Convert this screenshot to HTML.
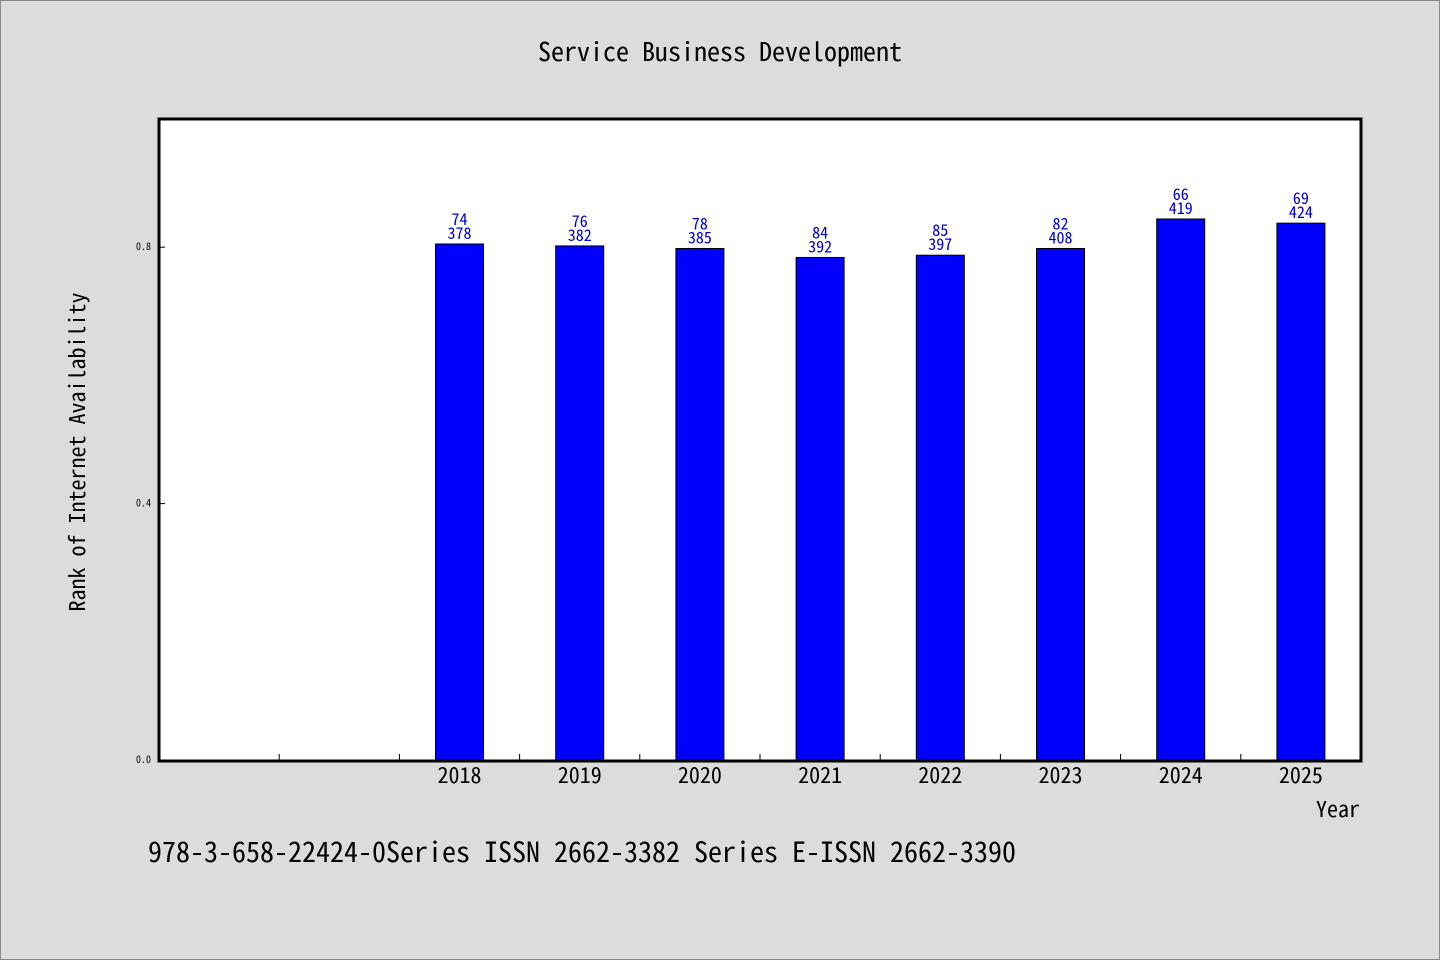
<!DOCTYPE html>
<html><head><meta charset="utf-8"><style>
html,body{margin:0;padding:0;background:#dcdcdc;overflow:hidden;width:1440px;height:960px;}
svg{display:block;}
svg text{font-family:"WenQuanYi Zen Hei Mono","WenQuanYi Zen Hei","Noto Sans Mono CJK SC","Liberation Mono",monospace;}
</style></head><body>
<svg width="1440" height="960" xmlns="http://www.w3.org/2000/svg" id="c" font-family="WenQuanYi Zen Hei Mono, WenQuanYi Zen Hei, Liberation Mono, monospace">
<rect x="0.5" y="0.5" width="1439" height="959" fill="#dcdcdc" stroke="#888"/>
<text x="720" y="61" text-anchor="middle" font-size="26">Service Business Development</text>
<rect x="159" y="119" width="1202" height="642" fill="#fff"/>
<g id="marks"></g>
<rect x="159" y="119" width="1202" height="642" fill="none" stroke="#000" stroke-width="3"/>
<text transform="translate(85,452) rotate(-90)" text-anchor="middle" font-size="22">Rank of Internet Availability</text>
<text x="1360" y="817" text-anchor="end" font-size="22">Year</text>
<text x="148" y="862" font-size="28">978-3-658-22424-0Series ISSN 2662-3382 Series E-ISSN 2662-3390</text>
</svg>
<script>
const categories=["","","2018","2019","2020","2021","2022","2023","2024","2025"];
const values=[null,null,0.805,0.802,0.798,0.784,0.7875,0.798,0.844,0.8375];
const labelTop=["","","74","76","78","84","85","82","66","69"];
const labelBottom=["","","378","382","385","392","397","408","419","424"];
const yTicks=[0.0,0.4,0.8];
const yTickLabels=["0.0","0.4","0.8"];
const L=159,R=1361,T=119,B=760,ymax=1.0;
const slot=(R-L)/categories.length;
const xs=i=>L+slot*(i+0.5);
const ys=v=>B-(v/ymax)*(B-T);
const NS="http://www.w3.org/2000/svg";
const g=document.getElementById('marks');
function mk(t,a){const e=document.createElementNS(NS,t);for(const k in a)e.setAttribute(k,a[k]);g.appendChild(e);return e;}
for(let i=1;i<categories.length;i++){
  const l=mk('line',{x1:L+slot*i,x2:L+slot*i,y1:B,y2:B-6,stroke:'#000'});
  
  
}
yTicks.forEach((v,i)=>{
  const l=mk('line',{x1:L,x2:L+6,y1:ys(v),y2:ys(v),stroke:'#000'});
  
  
  const t=mk('text',{x:L-8,y:ys(v)+3,'text-anchor':'end','font-size':10});
  t.textContent=yTickLabels[i];
  
  
});
categories.forEach((c,i)=>{
  if(values[i]==null)return;
  const x=xs(i),y=ys(values[i]);
  const r=mk('rect',{x:x-24,y:y,width:48,height:B-y,fill:'#0000ff',stroke:'#000','stroke-width':1});
  
  
  const t1=mk('text',{x:x,y:y-19,'text-anchor':'middle','font-size':16,fill:'#0000cc'});
  t1.textContent=labelTop[i];
  
  
  const t2=mk('text',{x:x,y:y-5,'text-anchor':'middle','font-size':16,fill:'#0000cc'});
  t2.textContent=labelBottom[i];
  
  
  const xl=mk('text',{x:x,y:783,'text-anchor':'middle','font-size':22});
  xl.textContent=c;
  
  
});
</script>
</body></html>
